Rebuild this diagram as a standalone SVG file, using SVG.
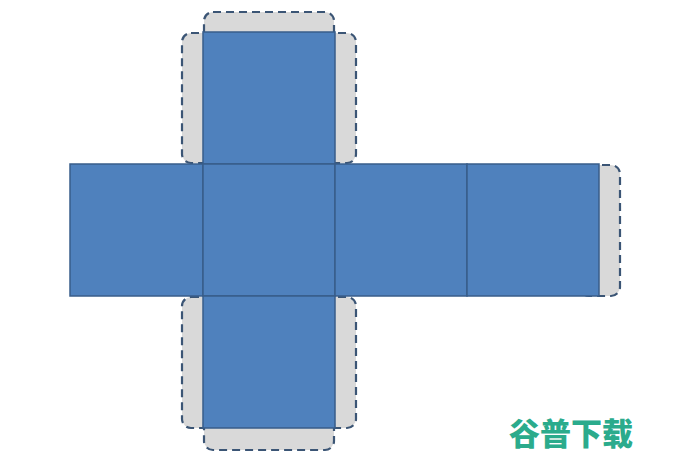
<svg xmlns="http://www.w3.org/2000/svg" width="689" height="456" viewBox="0 0 689 456">
<style>
.tab{fill:#d9d9d9;stroke:#3b5575;stroke-width:2.2;stroke-dasharray:8 5}
.face{fill:#4f81bd;stroke:#385d8a;stroke-width:1.5}
.wm{font-family:"Noto Sans CJK SC",sans-serif;font-weight:900;font-size:31px;fill:#2bab8c}
</style>
<rect width="689" height="456" fill="#ffffff"/>
<g id="tabs">
<rect id="tab-top" class="tab" x="204" y="12" width="130" height="40" rx="9"/>
<rect id="tab-top-left" class="tab" x="182" y="33" width="40" height="130" rx="9"/>
<rect id="tab-top-right" class="tab" x="316" y="33" width="40" height="130" rx="9"/>
<rect id="tab-right" class="tab" x="580" y="165" width="40" height="131" rx="9"/>
<rect id="tab-bottom-left" class="tab" x="182" y="297" width="40" height="131" rx="9"/>
<rect id="tab-bottom-right" class="tab" x="316" y="297" width="40" height="131" rx="9"/>
<rect id="tab-bottom" class="tab" x="204" y="410" width="130" height="40" rx="9"/>
</g>
<g id="faces">
<rect id="face-top" class="face" x="203" y="32" width="132" height="132"/>
<rect id="face-left" class="face" x="70" y="164" width="133" height="132"/>
<rect id="face-center" class="face" x="203" y="164" width="132" height="132"/>
<rect id="face-right1" class="face" x="335" y="164" width="132" height="132"/>
<rect id="face-right2" class="face" x="467" y="164" width="132" height="132"/>
<rect id="face-bottom" class="face" x="203" y="296" width="132" height="132"/>
</g>
<text class="wm" x="509" y="445">谷普下载</text>
</svg>
